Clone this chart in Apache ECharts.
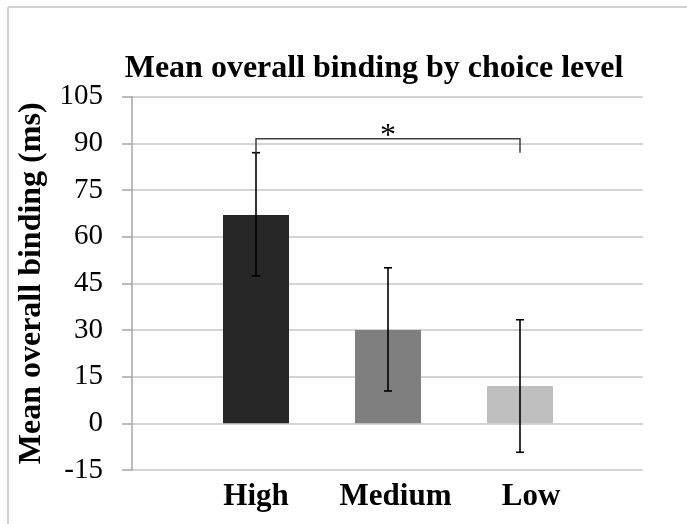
<!DOCTYPE html>
<html>
<head>
<meta charset="utf-8">
<script src="https://cdn.jsdelivr.net/npm/echarts@6/dist/echarts.min.js"></script>
<style>
html,body{margin:0;padding:0;background:#fff;}
#c{width:687px;height:524px;}
</style>
</head>
<body>
<div id="c"></div>
<script>
// ---- data ----
var categories = ['High', 'Medium', 'Low'];
var meanValues = [67, 30, 12];
var errLow = [47.4, 10.4, -9.3];
var errHigh = [87.0, 50.0, 33.3];
var barColors = ['#262626', '#7f7f7f', '#bfbfbf'];
var yTicks = [-15, 0, 15, 30, 45, 60, 75, 90, 105];
var bracket = [[0, 2, 91.5, 87.0]]; // from cat, to cat, top, drop
var bracketLabel = '*';
var titleText = 'Mean overall binding by choice level';
var yTitle = 'Mean overall binding (ms)';

var serif = '"Liberation Serif","Times New Roman",serif';
var yMin = yTicks[0], yMax = yTicks[yTicks.length - 1], yStep = yTicks[1] - yTicks[0];
var labelShift = {High: 0, Medium: 15, Low: 22};
var labelStyle = {fontFamily: serif, fontWeight: 'bold', fontSize: 31, color: '#000'};

var chart = echarts.init(document.getElementById('c'), null, {renderer: 'canvas'});
chart.setOption({
  backgroundColor: '#ffffff',
  animation: false,
  title: {
    text: titleText,
    left: 369, top: 48, textAlign: 'center',
    textStyle: {fontFamily: serif, fontWeight: 'bold', fontSize: 32, color: '#000'}
  },
  graphic: [
    {type: 'line', shape: {x1: 8, y1: 7, x2: 687, y2: 7}, style: {stroke: '#d0d0d0', lineWidth: 2}},
    {type: 'line', shape: {x1: 8, y1: 7, x2: 8, y2: 524}, style: {stroke: '#d0d0d0', lineWidth: 2}}
  ],
  grid: [
    {left: 132, right: 44, top: 96.7, bottom: 54, containLabel: false},
    {left: 190, right: 101, top: 96.7, bottom: 54, containLabel: false}
  ],
  xAxis: [
    {gridIndex: 0, type: 'value', min: 0, max: 1, show: false},
    {gridIndex: 1, type: 'category', data: categories,
      axisLine: {show: false}, axisTick: {show: false},
      axisLabel: {margin: 11, interval: 0,
        formatter: function (v) { return '{s' + v + '|' + v + '}'; },
        rich: {
          sHigh: Object.assign({padding: [0, 0, 0, labelShift.High]}, labelStyle),
          sMedium: Object.assign({padding: [0, 0, 0, labelShift.Medium]}, labelStyle),
          sLow: Object.assign({padding: [0, 0, 0, labelShift.Low]}, labelStyle)
        },
        fontFamily: serif, fontWeight: 'bold', fontSize: 31, color: '#000'}}
  ],
  yAxis: [
    {gridIndex: 0, type: 'value', min: yMin, max: yMax, interval: yStep,
      name: yTitle, nameLocation: 'middle', nameRotate: 90, nameGap: 84,
      nameTextStyle: {fontFamily: serif, fontWeight: 'bold', fontSize: 32, color: '#000'},
      axisLine: {show: true, lineStyle: {color: '#a6a6a6', width: 1.5}},
      axisTick: {show: true, length: 10, lineStyle: {color: '#a6a6a6', width: 1.5}},
      axisLabel: {margin: 29, fontFamily: serif, fontSize: 29, color: '#000'},
      splitLine: {show: true, lineStyle: {color: '#c6c6c6', width: 1.5}}},
    {gridIndex: 1, type: 'value', min: yMin, max: yMax, interval: yStep, show: false,
      splitLine: {show: false}}
  ],
  series: [
    {
      type: 'bar', xAxisIndex: 1, yAxisIndex: 1, barWidth: '50%',
      data: meanValues.map(function (v, i) { return {value: v, itemStyle: {color: barColors[i]}}; })
    },
    {
      type: 'custom', xAxisIndex: 1, yAxisIndex: 1, clip: false, z: 5,
      data: categories.map(function (c, i) { return [i, errLow[i], errHigh[i]]; }),
      renderItem: function (params, api) {
        var x = api.value(0);
        var p1 = api.coord([x, api.value(1)]);
        var p2 = api.coord([x, api.value(2)]);
        var hw = 4;
        var st = {stroke: '#000', lineWidth: 1.6};
        return {type: 'group', children: [
          {type: 'line', shape: {x1: p1[0], y1: p1[1], x2: p2[0], y2: p2[1]}, style: st},
          {type: 'line', shape: {x1: p1[0] - hw, y1: p1[1], x2: p1[0] + hw, y2: p1[1]}, style: st},
          {type: 'line', shape: {x1: p2[0] - hw, y1: p2[1], x2: p2[0] + hw, y2: p2[1]}, style: st}
        ]};
      }
    },
    {
      type: 'custom', xAxisIndex: 1, yAxisIndex: 1, clip: false, z: 6,
      data: bracket,
      encode: {x: 0, y: 2},
      renderItem: function (params, api) {
        var a = api.value(0), b = api.value(1), top = api.value(2), drop = api.value(3);
        var pa = api.coord([a, drop]), pat = api.coord([a, top]);
        var pb = api.coord([b, drop]), pbt = api.coord([b, top]);
        return {type: 'group', children: [
          {type: 'polyline', shape: {points: [pa, pat, pbt, pb]},
            style: {stroke: '#404040', lineWidth: 1.5, fill: null}},
          {type: 'text', x: (pat[0] + pbt[0]) / 2, y: pat[1] - 2,
            style: {text: bracketLabel, fontFamily: serif, fontSize: 32, fill: '#000',
              align: 'center', verticalAlign: 'middle'}}
        ]};
      }
    }
  ]
});
</script>
</body>
</html>
